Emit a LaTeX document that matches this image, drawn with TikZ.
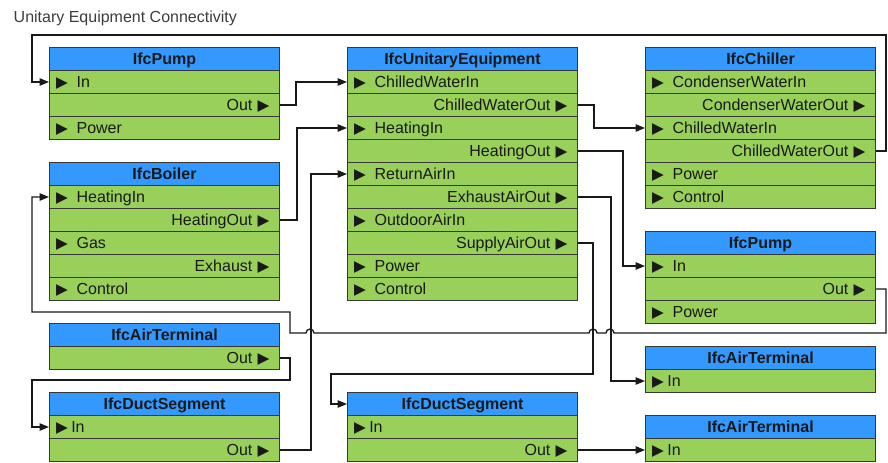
\documentclass[tikz,border=0pt]{standalone}
\usepackage{fontspec}
\setmainfont{Liberation Sans}
\newfontfamily\symfont{DejaVu Sans}
\usetikzlibrary{arrows.meta}

\definecolor{hdrblue}{RGB}{51,153,255}
\definecolor{rowgreen}{RGB}{153,208,90}
\definecolor{edgegray}{RGB}{55,55,55}
\definecolor{inkdark}{RGB}{25,25,25}
\definecolor{titlegray}{RGB}{60,60,60}

% port direction marker
\newcommand\portmark{{\symfont\fontsize{11.5}{12}\selectfont ▶}\kern2.5pt}

% one IFC element: header plus a stack of port rows (L = left aligned, R = right aligned)
\newcommand\ifcbox[5]{%
  \node[hdr] (#1) at (#2,#3) {#4};
  \foreach \side/\txt [count=\i] in {#5}{
    \node[row\side] (#1-\i) at (#2,{#3+23*\i}) {\txt};
  }
}

\tikzset{
  cell/.style={rectangle, draw=edgegray, line width=0.75pt, anchor=north west,
    minimum height=17.25pt, inner ysep=0pt, inner xsep=5pt, text width=162.5pt,
    text height=8.6pt, text depth=0pt, text=inkdark,
    font=\fontsize{12}{14}\selectfont},
  hdr/.style={cell, fill=hdrblue, align=center, font=\fontsize{12}{14}\selectfont\bfseries},
  rowL/.style={cell, fill=rowgreen, align=left},
  rowR/.style={cell, fill=rowgreen, align=right},
  conn/.style={draw=inkdark, line width=1pt},
  flow/.style={conn, -{Triangle[length=7pt,width=5.5pt]}}
}

\begin{document}
\begin{tikzpicture}[x=0.75pt, y=-0.75pt]
\useasboundingbox (0,0) rectangle (888,462);

\node[anchor=base west, text=titlegray, font=\fontsize{12}{14}\selectfont] (title) at (9,22.5) {Unitary Equipment Connectivity};

% left column
\ifcbox{pa}{49}{47}{IfcPump}{L/\portmark{} In, R/Out \portmark, L/\portmark{} Power}
\ifcbox{boil}{49}{162}{IfcBoiler}{L/\portmark{} HeatingIn, R/HeatingOut \portmark, L/\portmark{} Gas, R/Exhaust \portmark, L/\portmark{} Control}
\ifcbox{atl}{49}{323}{IfcAirTerminal}{R/Out \portmark}
\ifcbox{dsl}{49}{392}{IfcDuctSegment}{L/\portmark In, R/Out \portmark}

% middle column
\ifcbox{ue}{347}{47}{IfcUnitaryEquipment}{L/\portmark{} ChilledWaterIn, R/ChilledWaterOut \portmark, L/\portmark{} HeatingIn, R/HeatingOut \portmark, L/\portmark{} ReturnAirIn, R/ExhaustAirOut \portmark, L/\portmark{} OutdoorAirIn, R/SupplyAirOut \portmark, L/\portmark{} Power, L/\portmark{} Control}
\ifcbox{dsm}{347}{392}{IfcDuctSegment}{L/\portmark In, R/Out \portmark}

% right column
\ifcbox{ch}{645}{47}{IfcChiller}{L/\portmark{} CondenserWaterIn, R/CondenserWaterOut \portmark, L/\portmark{} ChilledWaterIn, R/ChilledWaterOut \portmark, L/\portmark{} Power, L/\portmark{} Control}
\ifcbox{pb}{645}{231}{IfcPump}{L/\portmark{} In, R/Out \portmark, L/\portmark{} Power}
\ifcbox{ata}{645}{346}{IfcAirTerminal}{L/\portmark In}
\ifcbox{atb}{645}{415}{IfcAirTerminal}{L/\portmark In}

% chilled water loop
\draw[flow] (ch-4.east) -| (886,35) -- (32,35) |- (pa-1.west);
\draw[flow] (pa-2.east) -- ++(16,0) |- (ue-1.west);
\draw[flow] (ue-2.east) -- ++(16,0) |- (ch-3.west);

% heating loop
\draw[flow] (boil-2.east) -- ++(17,0) |- (ue-3.west);
\draw[flow] (ue-4.east) -- ++(45,0) |- (pb-1.west);
\draw[flow] (pb-2.east) -| (886,333)
  -- (614,333) arc[start angle=0, end angle=180, radius=3pt]
  -- (597,333) arc[start angle=0, end angle=180, radius=3pt]
  -- (314,333) arc[start angle=0, end angle=180, radius=3pt]
  -- (290,333) -- (290,312) -- (32,312) |- (boil-1.west);

% air side
\draw[flow] (dsl-2.east) -- ++(31,0) |- (ue-5.west);
\draw[flow] (ue-6.east) -- ++(33,0) |- (ata-1.west);
\draw[flow] (ue-8.east) -| (593,374) -- (331,374) |- (dsm.west);
\draw[flow] (atl-1.east) -| (290,380) -- (32,380) |- (dsl-1.west);
\draw[flow] (dsm-2.east) -- (atb-1.west);
\end{tikzpicture}
\end{document}
